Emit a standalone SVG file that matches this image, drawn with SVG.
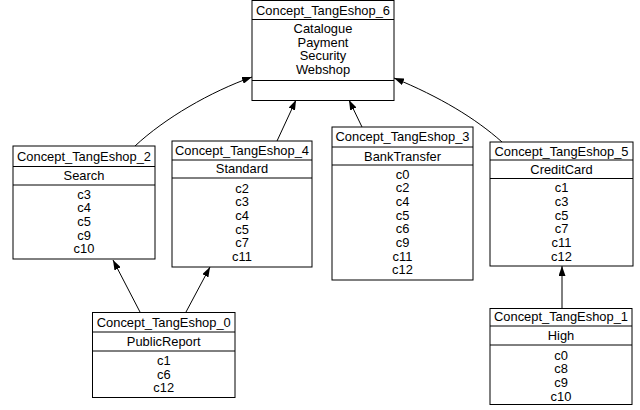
<svg xmlns="http://www.w3.org/2000/svg" width="640" height="410" viewBox="0 0 640 410">
<style>
.box{fill:#fff;stroke:#000;stroke-width:1}
.sep{stroke:#000;stroke-width:1}
text{font-family:"Liberation Sans",Arial,sans-serif;font-size:12.9px;text-anchor:middle;fill:#000}
.edge{fill:none;stroke:#000;stroke-width:1}
</style>
<defs>
<marker id="arr" viewBox="0 0 10 7" refX="10" refY="3.5" markerWidth="10" markerHeight="7" markerUnits="userSpaceOnUse" orient="auto">
<path d="M0,0 L10,3.5 L0,7 z" fill="#000"/>
</marker>
</defs>
<g id="edges">
<path class="edge" marker-end="url(#arr)" d="M135,146 C165,118 210,92 252,77"/>
<path class="edge" marker-end="url(#arr)" d="M277,141 L296,100"/>
<path class="edge" marker-end="url(#arr)" d="M362,127 L349,100"/>
<path class="edge" marker-end="url(#arr)" d="M502,142 C475,118 440,97 394,78"/>
<path class="edge" marker-end="url(#arr)" d="M140,312 L113,260"/>
<path class="edge" marker-end="url(#arr)" d="M186,312 L210,267"/>
<path class="edge" marker-end="url(#arr)" d="M562,308 L562,266"/>
</g>
<g id="Concept_TangEshop_6">
<rect class="box" x="252" y="0.5" width="142" height="100"/>
<line class="sep" x1="252" y1="19.5" x2="394" y2="19.5"/>
<line class="sep" x1="252" y1="80.5" x2="394" y2="80.5"/>
<text x="323" y="14.5">Concept_TangEshop_6</text>
<text x="323" y="32.8">Catalogue</text>
<text x="323" y="46.5">Payment</text>
<text x="323" y="60.2">Security</text>
<text x="323" y="73.9">Webshop</text>
</g>
<g id="Concept_TangEshop_2">
<rect class="box" x="13" y="146" width="142" height="113"/>
<line class="sep" x1="13" y1="166.5" x2="155" y2="166.5"/>
<line class="sep" x1="13" y1="185" x2="155" y2="185"/>
<text x="84" y="160.5">Concept_TangEshop_2</text>
<text x="84" y="180">Search</text>
<text x="84" y="198.5">c3</text>
<text x="84" y="212.2">c4</text>
<text x="84" y="225.9">c5</text>
<text x="84" y="239.6">c9</text>
<text x="84" y="253.3">c10</text>
</g>
<g id="Concept_TangEshop_4">
<rect class="box" x="172" y="141" width="140" height="126"/>
<line class="sep" x1="172" y1="160" x2="312" y2="160"/>
<line class="sep" x1="172" y1="178" x2="312" y2="178"/>
<text x="242" y="154.5">Concept_TangEshop_4</text>
<text x="242" y="173">Standard</text>
<text x="242" y="192.5">c2</text>
<text x="242" y="206.2">c3</text>
<text x="242" y="219.9">c4</text>
<text x="242" y="233.6">c5</text>
<text x="242" y="247.3">c7</text>
<text x="242" y="261">c11</text>
</g>
<g id="Concept_TangEshop_3">
<rect class="box" x="332" y="127" width="141" height="153"/>
<line class="sep" x1="332" y1="147" x2="473" y2="147"/>
<line class="sep" x1="332" y1="165" x2="473" y2="165"/>
<text x="402.5" y="141">Concept_TangEshop_3</text>
<text x="402.5" y="160.5">BankTransfer</text>
<text x="402.5" y="178.5">c0</text>
<text x="402.5" y="192.2">c2</text>
<text x="402.5" y="205.9">c4</text>
<text x="402.5" y="219.6">c5</text>
<text x="402.5" y="233.3">c6</text>
<text x="402.5" y="247">c9</text>
<text x="402.5" y="260.7">c11</text>
<text x="402.5" y="274.4">c12</text>
</g>
<g id="Concept_TangEshop_5">
<rect class="box" x="490" y="142" width="143" height="124"/>
<line class="sep" x1="490" y1="160" x2="633" y2="160"/>
<line class="sep" x1="490" y1="178.5" x2="633" y2="178.5"/>
<text x="561.5" y="155.5">Concept_TangEshop_5</text>
<text x="561.5" y="173.5">CreditCard</text>
<text x="561.5" y="192.2">c1</text>
<text x="561.5" y="205.9">c3</text>
<text x="561.5" y="219.6">c5</text>
<text x="561.5" y="233.3">c7</text>
<text x="561.5" y="247">c11</text>
<text x="561.5" y="260.7">c12</text>
</g>
<g id="Concept_TangEshop_0">
<rect class="box" x="92.5" y="312.5" width="142.5" height="85"/>
<line class="sep" x1="92.5" y1="332" x2="235" y2="332"/>
<line class="sep" x1="92.5" y1="351" x2="235" y2="351"/>
<text x="163.75" y="327">Concept_TangEshop_0</text>
<text x="163.75" y="345.5">PublicReport</text>
<text x="163.75" y="365">c1</text>
<text x="163.75" y="378.7">c6</text>
<text x="163.75" y="392.4">c12</text>
</g>
<g id="Concept_TangEshop_1">
<rect class="box" x="490" y="308.5" width="142" height="96"/>
<line class="sep" x1="490" y1="326" x2="632" y2="326"/>
<line class="sep" x1="490" y1="345" x2="632" y2="345"/>
<text x="561" y="321">Concept_TangEshop_1</text>
<text x="561" y="339.5">High</text>
<text x="561" y="359.5">c0</text>
<text x="561" y="373.2">c8</text>
<text x="561" y="386.9">c9</text>
<text x="561" y="400.6">c10</text>
</g>
</svg>
